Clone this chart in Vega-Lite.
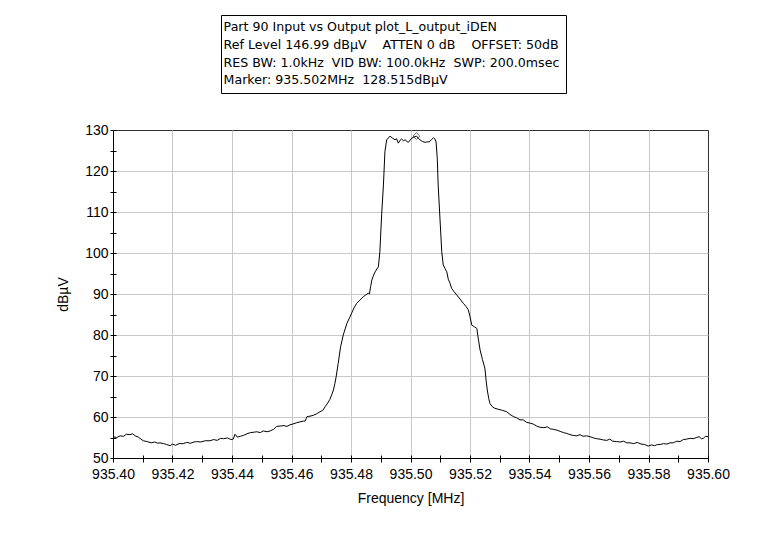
{
  "$schema": "https://vega.github.io/schema/vega-lite/v6.json",
  "width": 595,
  "height": 328,
  "autosize": {"type": "none"},
  "padding": {"left": 113, "top": 130, "right": 61, "bottom": 87},
  "background": "white",
  "datasets": {
    "trace": [
      {"f": 935.4000, "v": 55.2}, {"f": 935.4012, "v": 55.0}, {"f": 935.4024, "v": 55.4}, {"f": 935.4036, "v": 55.3},
      {"f": 935.4045, "v": 55.8}, {"f": 935.4057, "v": 55.7}, {"f": 935.4066, "v": 55.9}, {"f": 935.4075, "v": 55.4},
      {"f": 935.4085, "v": 55.1}, {"f": 935.4094, "v": 54.6}, {"f": 935.4102, "v": 54.2}, {"f": 935.4115, "v": 54.0},
      {"f": 935.4128, "v": 53.7}, {"f": 935.4140, "v": 53.9}, {"f": 935.4150, "v": 53.6}, {"f": 935.4158, "v": 53.7},
      {"f": 935.4170, "v": 53.5}, {"f": 935.4180, "v": 53.3}, {"f": 935.4192, "v": 53.0}, {"f": 935.4200, "v": 53.4},
      {"f": 935.4210, "v": 53.1}, {"f": 935.4222, "v": 53.5}, {"f": 935.4236, "v": 53.5}, {"f": 935.4248, "v": 53.8},
      {"f": 935.4260, "v": 53.6}, {"f": 935.4272, "v": 53.9}, {"f": 935.4281, "v": 54.0}, {"f": 935.4295, "v": 53.9},
      {"f": 935.4310, "v": 54.2}, {"f": 935.4326, "v": 54.2}, {"f": 935.4338, "v": 54.5}, {"f": 935.4350, "v": 54.3},
      {"f": 935.4362, "v": 54.8}, {"f": 935.4371, "v": 54.7}, {"f": 935.4385, "v": 54.9}, {"f": 935.4396, "v": 54.5},
      {"f": 935.4404, "v": 54.6}, {"f": 935.4410, "v": 55.8}, {"f": 935.4418, "v": 55.1}, {"f": 935.4428, "v": 55.3},
      {"f": 935.4438, "v": 55.5}, {"f": 935.4450, "v": 55.9}, {"f": 935.4462, "v": 56.2}, {"f": 935.4475, "v": 56.3},
      {"f": 935.4483, "v": 56.4}, {"f": 935.4495, "v": 56.2}, {"f": 935.4505, "v": 56.6}, {"f": 935.4518, "v": 56.4},
      {"f": 935.4528, "v": 56.6}, {"f": 935.4540, "v": 57.0}, {"f": 935.4550, "v": 57.7}, {"f": 935.4562, "v": 57.8},
      {"f": 935.4575, "v": 57.9}, {"f": 935.4585, "v": 57.7}, {"f": 935.4595, "v": 58.1}, {"f": 935.4605, "v": 58.3},
      {"f": 935.4617, "v": 58.6}, {"f": 935.4628, "v": 58.8}, {"f": 935.4640, "v": 59.0}, {"f": 935.4646, "v": 59.0},
      {"f": 935.4652, "v": 60.1}, {"f": 935.4662, "v": 60.2}, {"f": 935.4673, "v": 60.4}, {"f": 935.4685, "v": 60.8},
      {"f": 935.4696, "v": 61.3}, {"f": 935.4705, "v": 61.6}, {"f": 935.4713, "v": 62.5}, {"f": 935.4720, "v": 63.2},
      {"f": 935.4729, "v": 64.3}, {"f": 935.4735, "v": 65.4}, {"f": 935.4741, "v": 66.6}, {"f": 935.4746, "v": 68.2},
      {"f": 935.4750, "v": 69.8}, {"f": 935.4757, "v": 73.1}, {"f": 935.4765, "v": 77.1}, {"f": 935.4774, "v": 80.0},
      {"f": 935.4786, "v": 82.8}, {"f": 935.4795, "v": 84.2}, {"f": 935.4802, "v": 85.3}, {"f": 935.4810, "v": 86.6},
      {"f": 935.4819, "v": 87.7}, {"f": 935.4830, "v": 88.5}, {"f": 935.4841, "v": 89.3}, {"f": 935.4850, "v": 89.8},
      {"f": 935.4858, "v": 90.2}, {"f": 935.4862, "v": 90.0}, {"f": 935.4866, "v": 91.8}, {"f": 935.4870, "v": 93.4},
      {"f": 935.4876, "v": 94.6}, {"f": 935.4881, "v": 95.4}, {"f": 935.4887, "v": 96.1}, {"f": 935.4892, "v": 96.6},
      {"f": 935.4897, "v": 100.3}, {"f": 935.4903, "v": 109.3}, {"f": 935.4909, "v": 116.6}, {"f": 935.4914, "v": 124.7},
      {"f": 935.4920, "v": 127.6}, {"f": 935.4931, "v": 128.5}, {"f": 935.4940, "v": 128.0}, {"f": 935.4948, "v": 127.6},
      {"f": 935.4953, "v": 127.9}, {"f": 935.4959, "v": 126.8}, {"f": 935.4965, "v": 127.5}, {"f": 935.4970, "v": 127.8},
      {"f": 935.4976, "v": 127.4}, {"f": 935.4982, "v": 127.6}, {"f": 935.4988, "v": 127.2}, {"f": 935.4993, "v": 127.0},
      {"f": 935.5004, "v": 128.0}, {"f": 935.5012, "v": 128.3}, {"f": 935.5020, "v": 128.5}, {"f": 935.5026, "v": 128.0},
      {"f": 935.5032, "v": 127.6}, {"f": 935.5040, "v": 127.2}, {"f": 935.5049, "v": 127.0}, {"f": 935.5056, "v": 127.1},
      {"f": 935.5063, "v": 127.1}, {"f": 935.5070, "v": 127.6}, {"f": 935.5077, "v": 128.1}, {"f": 935.5082, "v": 127.8},
      {"f": 935.5086, "v": 127.1}, {"f": 935.5090, "v": 123.1}, {"f": 935.5093, "v": 116.6}, {"f": 935.5099, "v": 108.5},
      {"f": 935.5105, "v": 100.3}, {"f": 935.5110, "v": 97.1}, {"f": 935.5116, "v": 96.2}, {"f": 935.5122, "v": 95.4},
      {"f": 935.5127, "v": 93.6}, {"f": 935.5133, "v": 92.6}, {"f": 935.5138, "v": 91.4}, {"f": 935.5146, "v": 90.6},
      {"f": 935.5155, "v": 89.8}, {"f": 935.5166, "v": 88.8}, {"f": 935.5178, "v": 87.7}, {"f": 935.5186, "v": 87.0},
      {"f": 935.5194, "v": 86.2}, {"f": 935.5200, "v": 84.5}, {"f": 935.5206, "v": 82.4}, {"f": 935.5215, "v": 82.0},
      {"f": 935.5223, "v": 81.6}, {"f": 935.5228, "v": 79.0}, {"f": 935.5234, "v": 76.3}, {"f": 935.5242, "v": 74.0},
      {"f": 935.5250, "v": 71.9}, {"f": 935.5254, "v": 69.0}, {"f": 935.5258, "v": 66.6}, {"f": 935.5263, "v": 64.5},
      {"f": 935.5267, "v": 63.3}, {"f": 935.5275, "v": 62.5}, {"f": 935.5284, "v": 62.1}, {"f": 935.5295, "v": 61.9},
      {"f": 935.5310, "v": 61.6}, {"f": 935.5323, "v": 61.3}, {"f": 935.5335, "v": 60.6}, {"f": 935.5346, "v": 60.1},
      {"f": 935.5357, "v": 59.8}, {"f": 935.5368, "v": 59.3}, {"f": 935.5379, "v": 59.3}, {"f": 935.5390, "v": 58.7},
      {"f": 935.5402, "v": 58.5}, {"f": 935.5412, "v": 58.3}, {"f": 935.5424, "v": 57.8}, {"f": 935.5435, "v": 57.5},
      {"f": 935.5448, "v": 57.4}, {"f": 935.5460, "v": 57.6}, {"f": 935.5470, "v": 57.1}, {"f": 935.5480, "v": 57.0},
      {"f": 935.5492, "v": 56.8}, {"f": 935.5503, "v": 56.5}, {"f": 935.5514, "v": 56.2}, {"f": 935.5525, "v": 56.0},
      {"f": 935.5536, "v": 55.7}, {"f": 935.5547, "v": 55.5}, {"f": 935.5559, "v": 55.4}, {"f": 935.5570, "v": 55.7},
      {"f": 935.5580, "v": 55.3}, {"f": 935.5592, "v": 55.4}, {"f": 935.5603, "v": 55.2}, {"f": 935.5615, "v": 54.9},
      {"f": 935.5626, "v": 54.7}, {"f": 935.5637, "v": 54.6}, {"f": 935.5648, "v": 54.4}, {"f": 935.5660, "v": 54.3},
      {"f": 935.5670, "v": 54.6}, {"f": 935.5680, "v": 54.1}, {"f": 935.5693, "v": 54.0}, {"f": 935.5705, "v": 53.9},
      {"f": 935.5716, "v": 54.1}, {"f": 935.5727, "v": 53.7}, {"f": 935.5738, "v": 53.7}, {"f": 935.5750, "v": 53.5},
      {"f": 935.5762, "v": 53.8}, {"f": 935.5775, "v": 53.4}, {"f": 935.5787, "v": 53.3}, {"f": 935.5799, "v": 52.9},
      {"f": 935.5810, "v": 53.2}, {"f": 935.5820, "v": 53.0}, {"f": 935.5830, "v": 53.3}, {"f": 935.5839, "v": 53.3},
      {"f": 935.5850, "v": 53.5}, {"f": 935.5862, "v": 53.4}, {"f": 935.5872, "v": 53.7}, {"f": 935.5883, "v": 53.7},
      {"f": 935.5895, "v": 54.1}, {"f": 935.5906, "v": 54.0}, {"f": 935.5917, "v": 54.5}, {"f": 935.5928, "v": 54.6},
      {"f": 935.5940, "v": 54.8}, {"f": 935.5950, "v": 54.7}, {"f": 935.5962, "v": 55.0}, {"f": 935.5970, "v": 55.2},
      {"f": 935.5978, "v": 54.7}, {"f": 935.5984, "v": 54.8}, {"f": 935.5992, "v": 55.3}, {"f": 935.6000, "v": 55.2}
    ],
    "marker": [{"f": 935.502, "v": 128.515}],
    "info": [
      {"info": "Part 90 Input vs Output plot_L_output_iDEN"},
      {"info": "Ref Level 146.99 dBµV \u00a0\u00a0\u00a0ATTEN 0 dB \u00a0\u00a0\u00a0OFFSET: 50dB"},
      {"info": "RES BW: 1.0kHz \u00a0VID BW: 100.0kHz \u00a0SWP: 200.0msec"},
      {"info": "Marker: 935.502MHz \u00a0128.515dBµV"}
    ]
  },
  "layer": [
    {
      "data": {"name": "trace"},
      "mark": {"type": "line", "strokeOpacity": 0},
      "encoding": {
        "x": {"field": "f", "type": "quantitative", "scale": {"domain": [935.4, 935.6], "nice": false, "zero": false},
          "axis": {"orient": "bottom", "values": [935.42, 935.44, 935.46, 935.48, 935.5, 935.52, 935.54, 935.56, 935.58], "grid": true, "ticks": false, "labels": false, "domain": false, "title": null}},
        "y": {"field": "v", "type": "quantitative", "scale": {"domain": [50, 130], "nice": false, "zero": false},
          "axis": {"orient": "left", "values": [60, 70, 80, 90, 100, 110, 120], "grid": true, "ticks": false, "labels": false, "domain": false, "title": null}}
      }
    },
    {
      "data": {"name": "trace"},
      "mark": {"type": "line", "strokeOpacity": 0},
      "encoding": {
        "x": {"field": "f", "type": "quantitative",
          "axis": {"orient": "bottom", "values": [935.40, 935.41, 935.42, 935.43, 935.44, 935.45, 935.46, 935.47, 935.48, 935.49, 935.50, 935.51, 935.52, 935.53, 935.54, 935.55, 935.56, 935.57, 935.58, 935.59, 935.60], "grid": false, "ticks": true, "tickSize": -3, "labels": false, "domain": false, "title": null}},
        "y": {"field": "v", "type": "quantitative",
          "axis": {"orient": "left", "values": [50, 55, 60, 65, 70, 75, 80, 85, 90, 95, 100, 105, 110, 115, 120, 125, 130], "grid": false, "ticks": true, "tickSize": -3, "labels": false, "domain": false, "title": null}}
      }
    },
    {
      "data": {"name": "trace"},
      "mark": {"type": "line", "color": "black", "strokeWidth": 1},
      "encoding": {
        "x": {"field": "f", "type": "quantitative",
          "axis": {"orient": "bottom", "values": [935.40, 935.41, 935.42, 935.43, 935.44, 935.45, 935.46, 935.47, 935.48, 935.49, 935.50, 935.51, 935.52, 935.53, 935.54, 935.55, 935.56, 935.57, 935.58, 935.59, 935.60], "format": ".2f", "labelExpr": "round(datum.value * 100) % 2 === 0 ? datum.label : ''", "grid": false, "tickSize": 4, "labelPadding": 5, "title": "Frequency [MHz]", "titlePadding": 10}},
        "y": {"field": "v", "type": "quantitative",
          "axis": {"orient": "left", "values": [50, 55, 60, 65, 70, 75, 80, 85, 90, 95, 100, 105, 110, 115, 120, 125, 130], "labelExpr": "datum.value % 10 === 0 ? datum.label : ''", "grid": false, "tickSize": 3, "labelPadding": 2, "title": "dBµV", "titlePadding": 14}}
      }
    },
    {
      "data": {"name": "marker"},
      "mark": {"type": "point", "shape": "diamond", "filled": false, "color": "#222", "strokeWidth": 1, "size": 45},
      "encoding": {
        "x": {"field": "f", "type": "quantitative", "axis": null},
        "y": {"field": "v", "type": "quantitative", "axis": null}
      }
    },
    {
      "data": {"name": "info"},
      "mark": {"type": "point", "opacity": 0},
      "encoding": {
        "color": {"field": "info", "type": "nominal",
          "scale": {"domain": [
            "Part 90 Input vs Output plot_L_output_iDEN",
            "Ref Level 146.99 dBµV \u00a0\u00a0\u00a0ATTEN 0 dB \u00a0\u00a0\u00a0OFFSET: 50dB",
            "RES BW: 1.0kHz \u00a0VID BW: 100.0kHz \u00a0SWP: 200.0msec",
            "Marker: 935.502MHz \u00a0128.515dBµV"
          ], "range": ["#ffffff", "#ffffff", "#ffffff", "#ffffff"]},
          "legend": {"orient": "none", "legendX": 108, "legendY": -115, "title": null, "strokeColor": "black", "padding": 6, "symbolSize": 0, "symbolOpacity": 0, "symbolStrokeWidth": 0, "labelOffset": -16, "labelFont": "DejaVu Sans", "labelFontSize": 12.6, "labelColor": "black", "labelLimit": 0, "rowPadding": 4.6}}
      }
    }
  ],
  "resolve": {"axis": {"x": "independent", "y": "independent"}},
  "config": {
    "view": {"stroke": "#333333", "strokeWidth": 1},
    "font": "Liberation Sans",
    "axis": {"labelFont": "Liberation Sans", "labelFontSize": 14, "labelColor": "black", "titleFont": "Liberation Sans", "titleFontSize": 14, "titleFontWeight": "normal", "titleColor": "black", "domainColor": "black", "tickColor": "black", "gridColor": "#c8c8c8", "gridOpacity": 1, "labelFlush": false, "labelOverlap": false}
  }
}
